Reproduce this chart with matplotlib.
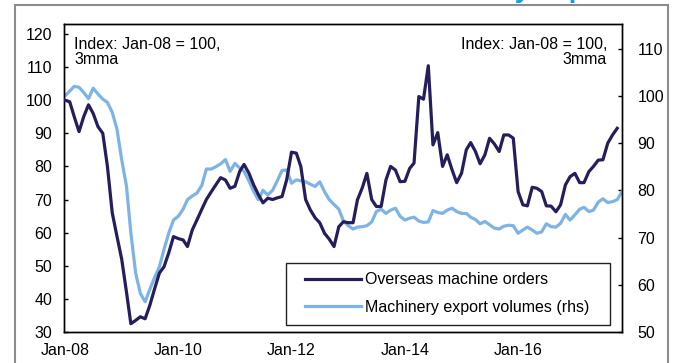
import matplotlib
matplotlib.use('Agg')
import matplotlib.pyplot as plt
import matplotlib.dates as mdates
from matplotlib.patches import Rectangle
import pandas as pd

plt.rcParams['font.family'] = ['Liberation Sans', 'DejaVu Sans']

# Index: Jan-08 = 100, 3-month moving average
orders = [100, 99.5, 95, 90.5, 95, 98.6, 96, 92, 90, 80,
          66, 59, 52, 42, 32.5, 33.5, 34.6, 34, 38, 43,
          47.8, 49.7, 54, 58.8, 58.2, 57.8, 55.8, 60.8, 63.8, 67,
          70, 72.3, 74.5, 76.6, 75.9, 73.4, 74, 78.5, 80.6, 78,
          74.5, 71.5, 69, 70.4, 70, 70.5, 70.9, 76, 84.3, 84,
          80, 70, 66.9, 64.5, 63, 59.8, 58, 55.8, 61.8, 63.3,
          63, 63, 69.9, 73.5, 77.9, 70, 67.9, 67.9, 75.9, 80,
          78.9, 75.4, 75.5, 79.4, 81, 101.1, 100.3, 110.4, 86.5, 90.2,
          80, 83.5, 79, 75.1, 77.9, 85, 87.2, 84.5, 80.8, 83.5,
          88.5, 86.8, 84.5, 89.5, 89.5, 88.5, 72.4, 68.4, 68.1, 73.7,
          73.4, 72.4, 68.1, 68, 66.3, 68.4, 74.4, 76.9, 77.9, 75.1,
          75.1, 78.4, 80, 81.9, 82, 87, 89.5, 91.5]

exports = [100, 101, 102, 101.8, 100.7, 99.4, 101.6, 100.4, 99.3, 98.6,
           96.5, 93, 86.5, 80.8, 71, 62.5, 58.2, 56.4, 59, 61.5,
           63.8, 67.5, 71, 73.7, 74.5, 76, 78, 78.8, 79.4, 81,
           84.5, 84.5, 85, 85.6, 86.5, 84, 85.7, 84.7, 84, 82,
           79.8, 78, 80, 79, 80, 82, 84.2, 84.3, 81.5, 82.2,
           82, 81.8, 81.3, 80.8, 81.8, 79.7, 78, 77, 76, 73.5,
           72.5, 71.8, 72.2, 72.3, 72.5, 73.3, 75.5, 76, 75.1, 75.8,
           76.2, 74.5, 73.7, 74.1, 74.3, 73.5, 73.2, 73.3, 75.7, 75.3,
           75.1, 75.8, 76.2, 75.5, 75.1, 75.1, 74.3, 73.8, 72.9, 73.4,
           72.7, 72, 71.8, 72.4, 72.6, 72.5, 70.9, 71.6, 72.2, 71.6,
           70.9, 71.2, 72.9, 72.3, 72.2, 73, 74.9, 73.7, 74.8, 76,
           76.4, 75.5, 75.8, 77.5, 78.2, 77.4, 77.6, 78, 79.7]

months = pd.date_range('2008-01-01', periods=len(exports), freq='MS')
tick_dates = pd.to_datetime(['2008-01-01', '2010-01-01', '2012-01-01',
                             '2014-01-01', '2016-01-01'])
left_ticks = [30, 40, 50, 60, 70, 80, 90, 100, 110, 120]
right_ticks = [50, 60, 70, 80, 90, 100, 110]

W, H = 675, 363
fig = plt.figure(figsize=(W / 100, H / 100), dpi=100)
ax = fig.add_axes([64 / W, 1 - 332 / H, (622 - 64) / W, (332 - 24) / H])
ax2 = ax.twinx()

dark = '#241f5c'
light = '#7eb3e6'
fs = 11.5

l1, = ax.plot(months[:len(orders)], orders, color=dark, lw=2.3,
              solid_joinstyle='round', zorder=3)
l2, = ax2.plot(months, exports, color=light, lw=2.3,
               solid_joinstyle='round', zorder=2)
ax.set_zorder(ax2.get_zorder() + 1)
ax.patch.set_visible(False)

ax.set_ylim(30, 123)
ax2.set_ylim(50, 115.2)
ax.set_yticks(left_ticks)
ax2.set_yticks(right_ticks)
ax.set_xlim(months[0] - pd.Timedelta(days=6), months[-1])
ax.set_xticks(tick_dates)
ax.xaxis.set_major_formatter(mdates.DateFormatter('%b-%y'))

ax.tick_params(axis='y', direction='in', length=3, width=1, pad=8.5,
               labelsize=fs)
ax.tick_params(axis='x', length=0, pad=8, labelsize=fs)
ax2.tick_params(axis='y', direction='in', length=3, width=1, pad=11,
                labelsize=fs)
for a in (ax, ax2):
    for s in a.spines.values():
        s.set_linewidth(1.0)

ax.text(74 / W, 1 - 37 / H, 'Index: Jan-08 = 100,\n3mma', transform=fig.transFigure,
        ha='left', va='top', fontsize=fs, linespacing=1.0)
ax.text(607 / W, 1 - 37 / H, 'Index: Jan-08 = 100,\n3mma', transform=fig.transFigure,
        ha='right', va='top', fontsize=fs, linespacing=1.0, multialignment='right')

# legend box drawn separately so the padding can be set freely
ax.add_patch(Rectangle((286 / W, 1 - 325 / H), (610 - 286) / W, (325 - 263) / H,
                       transform=fig.transFigure, facecolor='white',
                       edgecolor='#222222', lw=1.0, zorder=5, clip_on=False))
leg = ax.legend([l1, l2], ['Overseas machine orders', 'Machinery export volumes (rhs)'],
                loc='center left', bbox_to_anchor=(305 / W, 1 - 293.5 / H),
                bbox_transform=fig.transFigure, frameon=False, fontsize=fs,
                borderpad=0, borderaxespad=0, handlelength=3.5,
                handletextpad=0.25, labelspacing=0.8)
leg.set_zorder(6)

# page frame and clipped heading above the chart
fig.add_artist(Rectangle((15 / W, -0.1), (668 - 15) / W, 1.1 - 5 / H,
                         transform=fig.transFigure, fill=False,
                         edgecolor='#8c8c8c', lw=1.5))
fig.text(393 / W, 1 + 3 / H, 'Machinery exports', color='#0aa0e6',
         fontsize=20, fontweight='bold', ha='left', va='baseline')

fig.savefig('out.png', dpi=100)
